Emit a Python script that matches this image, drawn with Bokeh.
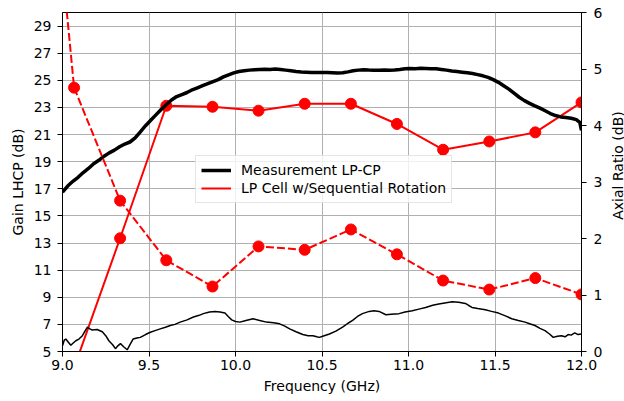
import numpy as np
from bokeh.plotting import figure
from bokeh.layouts import row
from bokeh.models import (Range1d, LinearAxis, FixedTicker, NumeralTickFormatter,
                          Legend, LegendItem, Label)
from bokeh.embed import file_html
from bokeh.resources import INLINE

# ---------------- data ----------------
# measured LHCP gain (left axis), sampled every 0.03 GHz from 9.00 to 11.97, plus tail
gain_meas_freq = list(np.round(np.arange(100) * 0.03 + 9.0, 3)) + [11.99, 12.0]
gain_meas = [
    16.75, 17.2, 17.55, 17.85, 18.2, 18.5, 18.85, 19.1, 19.4, 19.65,
    19.85, 20.1, 20.3, 20.45, 20.75, 21.2, 21.65, 22.05, 22.45, 22.85,
    23.2, 23.55, 23.8, 23.95, 24.1, 24.3, 24.45, 24.6, 24.75, 24.9,
    25.05, 25.25, 25.4, 25.55,
    25.65, 25.7, 25.75, 25.78, 25.8, 25.82, 25.8, 25.83, 25.8, 25.75,
    25.7, 25.65, 25.62, 25.6, 25.58, 25.57, 25.58, 25.57, 25.55, 25.53,
    25.55, 25.62, 25.7, 25.75, 25.78, 25.76, 25.75, 25.74, 25.76, 25.75,
    25.76, 25.8, 25.85,
    25.87, 25.86, 25.88, 25.87, 25.86, 25.85, 25.8, 25.75, 25.68, 25.65,
    25.6, 25.55, 25.5, 25.42, 25.33, 25.22, 25.05, 24.85, 24.6, 24.35,
    24.05, 23.75, 23.5, 23.3, 23.12, 22.95, 22.75, 22.55, 22.4, 22.3,
    22.25, 22.2, 22.1,
    21.9, 21.3,
]

# measured axial ratio (right axis)
ar_meas_freq = [
    9.0, 9.01, 9.019, 9.035, 9.048, 9.062, 9.077, 9.095, 9.115, 9.13,
    9.144, 9.158, 9.172, 9.2, 9.23, 9.25, 9.268, 9.29, 9.306, 9.32,
    9.335, 9.355, 9.374, 9.39, 9.408, 9.43, 9.45, 9.48, 9.508, 9.535,
    9.565, 9.595, 9.623, 9.65, 9.68, 9.72, 9.757, 9.79, 9.814, 9.85,
    9.882, 9.91, 9.939, 9.958, 9.978, 10.0, 10.025, 10.06, 10.102, 10.14,
    10.179, 10.22, 10.255, 10.285, 10.313, 10.35, 10.389, 10.42, 10.447, 10.47,
    10.485, 10.504, 10.543, 10.58, 10.619, 10.65, 10.677, 10.705, 10.734, 10.773,
    10.8, 10.83, 10.869, 10.9, 10.945, 10.98, 11.022, 11.06, 11.099, 11.14,
    11.175, 11.21, 11.252, 11.29, 11.329, 11.35, 11.367, 11.4, 11.444, 11.48,
    11.52, 11.56, 11.597, 11.635, 11.674, 11.7, 11.731, 11.76, 11.789, 11.815,
    11.837, 11.86, 11.884, 11.905, 11.923, 11.94, 11.961, 11.98, 12.0,
]
ar_meas = [
    0.10, 0.20, 0.22, 0.16, 0.11, 0.15, 0.19, 0.22, 0.28, 0.36,
    0.43, 0.40, 0.38, 0.39, 0.35, 0.28, 0.19, 0.12, 0.05, 0.10,
    0.14, 0.08, 0.03, 0.12, 0.22, 0.24, 0.25, 0.30, 0.34, 0.37,
    0.40, 0.43, 0.46, 0.48, 0.52, 0.56, 0.61, 0.64, 0.67, 0.70,
    0.71, 0.70, 0.68, 0.62, 0.56, 0.53, 0.52, 0.55, 0.58, 0.55,
    0.52, 0.51, 0.49, 0.45, 0.40, 0.35, 0.30, 0.28, 0.28, 0.26,
    0.25, 0.27, 0.31, 0.36, 0.43, 0.50, 0.55, 0.62, 0.67, 0.71,
    0.72, 0.71, 0.65, 0.66, 0.67, 0.70, 0.72, 0.75, 0.78, 0.82,
    0.84, 0.86, 0.88, 0.87, 0.85, 0.81, 0.78, 0.76, 0.74, 0.71,
    0.68, 0.63, 0.58, 0.55, 0.52, 0.49, 0.46, 0.41, 0.37, 0.31,
    0.25, 0.27, 0.28, 0.26, 0.30, 0.29, 0.33, 0.30, 0.31,
]

# simulated LP cell with sequential rotation
cell_freq = [9.067, 9.333, 9.6, 9.867, 10.133, 10.4, 10.667, 10.933, 11.2, 11.467, 11.733, 12.0]
cell_gain = [3.8, 13.35, 23.12, 23.05, 22.76, 23.27, 23.27, 21.78, 19.88, 20.49, 21.16, 23.37]
cell_ar_freq = [9.0] + cell_freq
cell_ar = [6.8, 4.67, 2.67, 1.615, 1.15, 1.86, 1.80, 2.16, 1.72, 1.256, 1.096, 1.30, 1.01]

gain_ticks = [5, 7, 9, 11, 13, 15, 17, 19, 21, 23, 25, 27, 29]
ar_ticks = [0, 1, 2, 3, 4, 5, 6]
freq_ticks = [9.0, 9.5, 10.0, 10.5, 11.0, 11.5, 12.0]

# ---------------- figure ----------------
FONT = "DejaVu Sans"
FS = "14px"

p = figure(width=605, height=401, x_range=Range1d(9.0, 12.0), y_range=Range1d(5, 30),
           output_backend="svg", toolbar_location=None,
           min_border_left=62, min_border_right=22, min_border_top=12, min_border_bottom=50)
p.extra_y_ranges = {"ar": Range1d(0, 6)}

p.outline_line_color = "black"
p.outline_line_width = 1
p.outline_line_alpha = 1
p.background_fill_color = "white"
p.border_fill_color = "white"

xt = FixedTicker(ticks=freq_ticks)
yt = FixedTicker(ticks=gain_ticks)
p.xaxis.ticker = xt
p.yaxis.ticker = yt
p.xgrid.ticker = xt
p.ygrid.ticker = yt
p.xaxis.formatter = NumeralTickFormatter(format="0.0")
p.xaxis.axis_label = "Frequency (GHz)"
p.yaxis.axis_label = "Gain LHCP (dB)"

ax2 = LinearAxis(y_range_name="ar", ticker=FixedTicker(ticks=ar_ticks))
p.add_layout(ax2, "right")

for ax in [p.xaxis[0], p.yaxis[0], ax2]:
    ax.axis_label_text_font = FONT
    ax.axis_label_text_font_size = FS
    ax.axis_label_text_font_style = "normal"
    ax.axis_label_text_color = "black"
    ax.major_label_text_font = FONT
    ax.major_label_text_font_size = FS
    ax.major_label_text_color = "black"
    ax.major_tick_out = 5
    ax.major_tick_in = 0
    ax.minor_tick_out = 0
    ax.minor_tick_in = 0
    ax.axis_line_color = "black"
    ax.major_tick_line_color = "black"
    ax.axis_label_standoff = 5
p.xaxis.major_label_standoff = 3
p.yaxis.major_label_standoff = 6
ax2.major_label_standoff = 7

for g in [p.xgrid[0], p.ygrid[0]]:
    g.grid_line_color = "#b0b0b0"
    g.grid_line_width = 1

# ---------------- glyphs ----------------
r_cell = p.line(cell_freq, cell_gain, line_color="red", line_width=2)
p.scatter(cell_freq, cell_gain, size=11, color="red")
r_meas = p.line(gain_meas_freq, gain_meas, line_color="black", line_width=3.5)

p.line(ar_meas_freq, ar_meas, line_color="black", line_width=1.5, y_range_name="ar")
p.line(cell_ar_freq, cell_ar, line_color="red", line_width=2, line_dash="8 3", y_range_name="ar")
p.scatter(cell_ar_freq, cell_ar, size=11, color="red", y_range_name="ar")

legend = Legend(items=[LegendItem(label="Measurement LP-CP", renderers=[r_meas]),
                       LegendItem(label="LP Cell w/Sequential Rotation", renderers=[r_cell])],
                location=(133, 148))
legend.label_text_font = FONT
legend.label_text_font_size = FS
legend.label_text_color = "black"
legend.glyph_width = 30
legend.glyph_height = 18
legend.label_height = 18
legend.label_standoff = 10
legend.spacing = 0
legend.padding = 5
legend.margin = 0
legend.border_line_color = "#cccccc"
legend.border_line_width = 1
legend.background_fill_color = "white"
legend.background_fill_alpha = 0.8
p.add_layout(legend)

# ---------------- right-axis title strip (reads bottom-to-top) ----------------
p2 = figure(width=19, height=401, x_range=Range1d(0, 19), y_range=Range1d(0, 401),
            x_axis_type=None, y_axis_type=None, output_backend="svg", toolbar_location=None,
            min_border=0)
p2.outline_line_color = None
p2.background_fill_color = "white"
p2.border_fill_color = "white"
p2.grid.visible = False
p2.add_layout(Label(x=12, y=220, text="Axial Ratio (dB)", angle=float(np.pi / 2),
                    text_align="center", text_baseline="middle",
                    text_font=FONT, text_font_size=FS, text_color="black"))

layout = row(p, p2, spacing=0)
open("out.html", "w").write(file_html(layout, INLINE))
